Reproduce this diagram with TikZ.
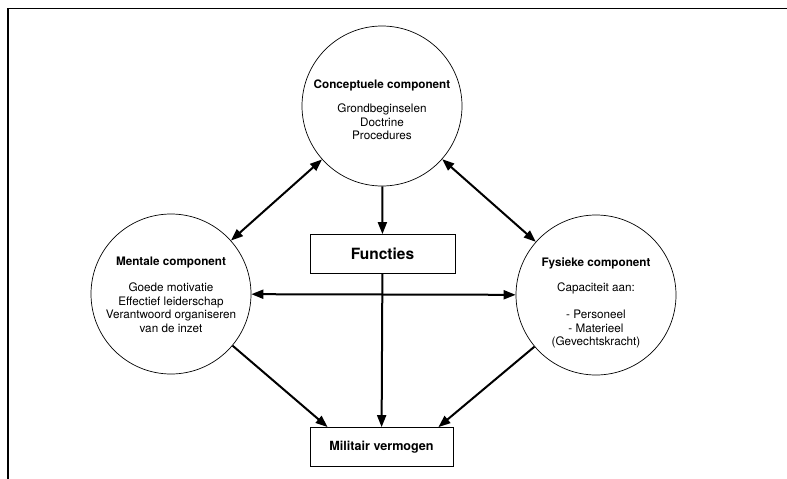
\documentclass[tikz,border=0pt]{standalone}
\usepackage{fontspec}
\setmainfont{TeX Gyre Heros}
\usetikzlibrary{arrows.meta}
\begin{document}
\begin{tikzpicture}[x=1pt,y=-1pt,
  comp/.style={circle,draw,line width=0.7pt,minimum size=160pt,inner sep=0pt},
  ttl/.style={font=\fontsize{11.7}{13}\selectfont\bfseries,inner sep=0pt},
  body/.style={font=\fontsize{11.7}{13.4}\selectfont,align=center,inner sep=0pt},
  boxn/.style={draw,line width=0.8pt,minimum width=145pt,minimum height=39pt,inner sep=0pt},
  arr/.style={line width=2pt,-{Triangle[length=12pt,width=9pt]}},
  darr/.style={line width=2pt,{Triangle[length=12pt,width=9pt]}-{Triangle[length=12pt,width=9pt]}}
]
\useasboundingbox (0,0) rectangle (787,479);
\draw[line width=1.1pt] (8,479) -- (8,8.5) -- (787,8.5);

\node[comp] (con) at (382,106) {};
\node[comp] (men) at (171,294) {};
\node[comp] (fys) at (596,295) {};

\node[ttl] (cont) at (382,85) {Conceptuele component};
\node[body,anchor=north] (conb) at (382,104) {Grondbeginselen\\Doctrine\\Procedures};

\node[ttl] (ment) at (171,263) {Mentale component};
\node[body,anchor=north] (menb) at (171,283) {Goede motivatie\\Effectief leiderschap\\Verantwoord organiseren\\van de inzet};

\node[ttl] (fyst) at (596,263) {Fysieke component};
\node[body,anchor=north] (fysb) at (596,283) {Capaciteit aan:\\[13.4pt]- Personeel\\- Materieel\\(Gevechtskracht)};

\node[boxn,font=\fontsize{15.5}{17}\selectfont\bfseries] (fun) at (382.5,254) {Functies};
\node[boxn,font=\fontsize{12.6}{14}\selectfont\bfseries,minimum width=143pt] (mil) at (381.5,447) {Militair vermogen};

\draw[arr] (con) -- (fun);
\draw[arr] (fun) -- (mil);
\draw[darr] (men) -- (fys);
\draw[darr] (con) -- (men);
\draw[darr] (con) -- (fys);
\draw[arr] (men.-40) -- ([xshift=18pt]mil.north west);
\draw[arr] (fys.220) -- ([xshift=-15pt]mil.north east);
\end{tikzpicture}
\end{document}
